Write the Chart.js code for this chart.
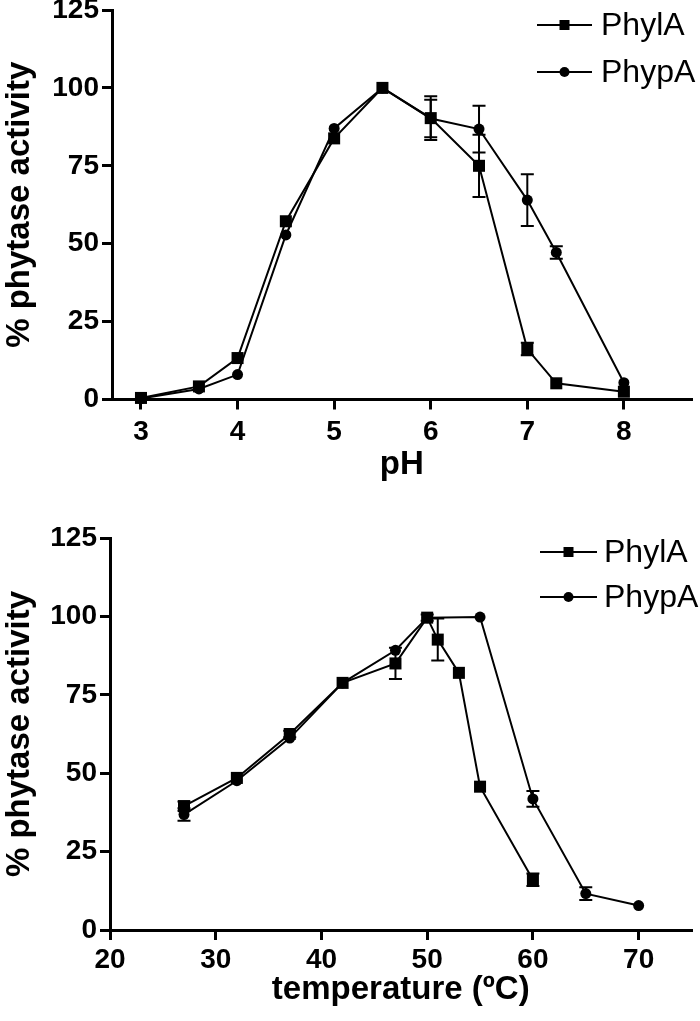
<!DOCTYPE html>
<html>
<head>
<meta charset="utf-8">
<script src="https://cdn.jsdelivr.net/npm/chart.js@4/dist/chart.umd.min.js"></script>
<style>
  body { margin: 0; background: #fff; }
  canvas { display: block; }
</style>
</head>
<body>
<canvas id="phChart" width="700" height="500"></canvas>
<canvas id="tempChart" width="700" height="521"></canvas>
<script>
// pH profile
const phX = [3, 3.6, 4, 4.5, 5, 5.5, 6, 6.5, 7, 7.3, 8];
const phPhylA = [0.5, 4.2, 13.3, 57.2, 83.8, 100, 90.3, 75, 16.2, 5.2, 2.5];
const phPhylAErr = [0, 0, 0, 0, 0, 0, 7, 10, 2, 0, 0];
const phPhypA = [0.3, 3.4, 8, 52.8, 87, 100, 90.2, 86.8, 64, 47.2, 5.4];
const phPhypAErr = [0, 0, 0, 0, 0, 0, 6, 7.5, 8.3, 2, 0];
const phTicks = [3, 4, 5, 6, 7, 8];

// temperature profile
const tempXPhylA = [27, 32, 37, 42, 47, 50, 51, 53, 55, 60];
const tempPhylA = [39.5, 48.5, 62.5, 78.8, 85, 99.6, 92.6, 82, 45.7, 16];
const tempPhylAErr = [1.5, 0, 1, 0, 5, 1, 6.7, 0, 0, 2];
const tempXPhypA = [27, 32, 37, 42, 47, 50, 55, 60, 65, 70];
const tempPhypA = [36.8, 47.6, 61.2, 78.8, 89.2, 99.6, 99.8, 41.8, 11.6, 7.8];
const tempPhypAErr = [2, 0, 0, 0, 0, 0, 0, 2.5, 2, 0];
const tempTicks = [20, 30, 40, 50, 60, 70];

const yTicks = [0, 25, 50, 75, 100, 125];
const seriesNames = ['PhylA', 'PhypA'];

const FONT = "'Liberation Sans', Arial, Helvetica, sans-serif";

function toPoints(xs, ys) {
  return xs.map((x, i) => ({x: x, y: ys[i]}));
}

// GraphPad style error bars with caps
const errorBars = {
  id: 'errorBars',
  afterDatasetsDraw(chart) {
    const ctx = chart.ctx;
    const xs = chart.scales.x, ys = chart.scales.y;
    chart.data.datasets.forEach((ds) => {
      if (!ds.errors) return;
      ctx.save();
      ctx.strokeStyle = '#000';
      ctx.lineWidth = 2;
      ds.data.forEach((p, i) => {
        const e = ds.errors[i];
        if (!e) return;
        const x = xs.getPixelForValue(p.x);
        const top = ys.getPixelForValue(p.y + e);
        const bot = ys.getPixelForValue(p.y - e);
        ctx.beginPath();
        ctx.moveTo(x, top); ctx.lineTo(x, bot);
        ctx.moveTo(x - 6.5, top); ctx.lineTo(x + 6.5, top);
        ctx.moveTo(x - 6.5, bot); ctx.lineTo(x + 6.5, bot);
        ctx.stroke();
      });
      ctx.restore();
    });
  }
};

// legend drawn as line + marker, like the original figure
const lineLegend = {
  id: 'lineLegend',
  afterDraw(chart, args, opts) {
    const ctx = chart.ctx;
    chart.data.datasets.forEach((ds, i) => {
      const y = opts.y + i * opts.gap;
      const mx = opts.x + opts.len / 2;
      ctx.save();
      ctx.strokeStyle = '#000';
      ctx.fillStyle = '#000';
      ctx.lineWidth = 2;
      ctx.beginPath();
      ctx.moveTo(opts.x, y);
      ctx.lineTo(opts.x + opts.len, y);
      ctx.stroke();
      ctx.beginPath();
      if (ds.pointStyle === 'rect') {
        ctx.rect(mx - 5, y - 5, 10, 10);
      } else {
        ctx.arc(mx, y, 5, 0, Math.PI * 2);
      }
      ctx.fill();
      ctx.font = '32px ' + FONT;
      ctx.textBaseline = 'middle';
      ctx.textAlign = 'left';
      ctx.fillText(ds.label, opts.textX, y + 1);
      ctx.restore();
    });
  }
};

function makeChart(id, cfg) {
  const ctx = document.getElementById(id).getContext('2d');
  return new Chart(ctx, {
    type: 'line',
    data: {
      datasets: [
        {
          label: seriesNames[0],
          data: cfg.a,
          errors: cfg.aErr,
          pointStyle: 'rect',
          pointRadius: 8.5,
          borderColor: '#000',
          backgroundColor: '#000',
          borderWidth: 2,
          pointBorderWidth: 0
        },
        {
          label: seriesNames[1],
          data: cfg.b,
          errors: cfg.bErr,
          pointStyle: 'circle',
          pointRadius: 5.5,
          borderColor: '#000',
          backgroundColor: '#000',
          borderWidth: 2,
          pointBorderWidth: 0
        }
      ]
    },
    options: {
      responsive: false,
      animation: false,
      clip: false,
      layout: { padding: cfg.padding },
      plugins: {
        legend: { display: false },
        tooltip: { enabled: false },
        lineLegend: cfg.legend
      },
      scales: {
        x: {
          type: 'linear',
          min: cfg.xMin,
          max: cfg.xMax,
          afterBuildTicks: (axis) => { axis.ticks = cfg.xTicks.map(v => ({value: v})); },
          afterFit: (scale) => {
            scale.height = cfg.xHeight;
            scale.paddingLeft = 0;
            scale.paddingRight = 0;
          },
          border: { display: true, color: '#000', width: 3 },
          grid: { drawOnChartArea: false, drawTicks: true, tickLength: 10, color: '#000', lineWidth: 3 },
          ticks: {
            color: '#000',
            padding: cfg.tickPad,
            maxRotation: 0,
            font: { family: FONT, size: 28, weight: 'bold' }
          },
          title: {
            display: true,
            text: cfg.xTitle,
            color: '#000',
            padding: { top: 0, bottom: cfg.titlePad },
            font: { family: FONT, size: 33, weight: 'bold' }
          }
        },
        y: {
          min: 0,
          max: 125,
          afterBuildTicks: (axis) => { axis.ticks = yTicks.map(v => ({value: v})); },
          afterFit: (scale) => {
            scale.width = cfg.yWidth;
            scale.paddingTop = 0;
            scale.paddingBottom = 0;
          },
          border: { display: true, color: '#000', width: 3 },
          grid: { drawOnChartArea: false, drawTicks: true, tickLength: 10, color: '#000', lineWidth: 3 },
          ticks: {
            color: '#000',
            padding: 3,
            font: { family: FONT, size: 28, weight: 'bold' }
          },
          title: {
            display: true,
            text: '% phytase activity',
            color: '#000',
            padding: 0,
            font: { family: FONT, size: 33, weight: 'bold' }
          }
        }
      }
    },
    plugins: [errorBars, lineLegend]
  });
}

makeChart('phChart', {
  a: toPoints(phX, phPhylA),
  aErr: phPhylAErr,
  b: toPoints(phX, phPhypA),
  bErr: phPhypAErr,
  xMin: 2.7,
  xMax: 8.7,
  xTicks: phTicks,
  xTitle: 'pH',
  xHeight: 100.5,
  yWidth: 112,
  tickPad: 6,
  titlePad: 15,
  padding: { top: 10, right: 3, left: 0, bottom: 0 },
  legend: { x: 537, y: 25, gap: 47, len: 55, textX: 601 }
});

makeChart('tempChart', {
  a: toPoints(tempXPhylA, tempPhylA),
  aErr: tempPhylAErr,
  b: toPoints(tempXPhypA, tempPhypA),
  bErr: tempPhypAErr,
  xMin: 20,
  xMax: 75,
  xTicks: tempTicks,
  xTitle: 'temperature (ºC)',
  xHeight: 91,
  yWidth: 110,
  tickPad: 3,
  titlePad: 11,
  padding: { top: 38, right: 5, left: 0, bottom: 0 },
  legend: { x: 540, y: 52, gap: 45, len: 57, textX: 604 }
});
</script>
</body>
</html>
